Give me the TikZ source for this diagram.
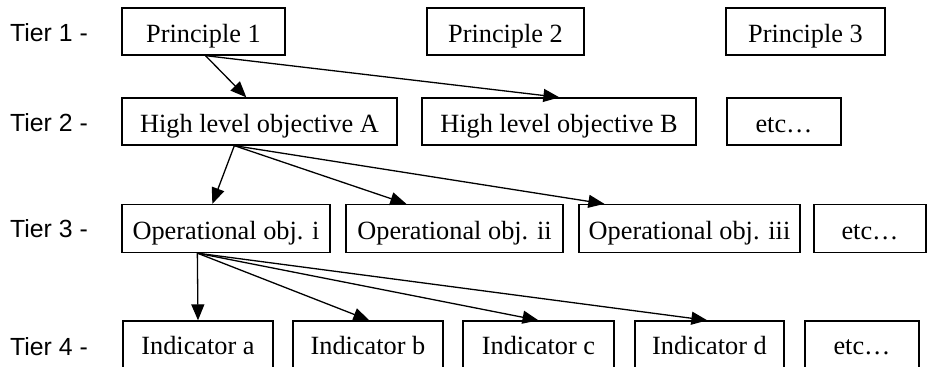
\documentclass[tikz,border=0pt]{standalone}
\usepackage{fontspec}
\setmainfont{Liberation Serif}
\newfontfamily\tierfont{Liberation Sans}
\usetikzlibrary{arrows.meta}
\begin{document}
\begin{tikzpicture}[x=1pt,y=-1pt,
  box/.style={draw,line width=1.3pt,inner sep=0pt,minimum height=47pt,text height=21pt,text depth=0pt,font=\fontsize{26.3}{28}\selectfont},
  lowbox/.style={box,minimum height=60pt,text height=6pt},
  tier/.style={anchor=base west,inner sep=0pt,font=\tierfont\fontsize{24.8}{27}\selectfont},
  arr/.style={line width=1.3pt,-{Triangle[length=16pt,width=13pt]}}]
\clip (0,0) rectangle (927,367);
\fill[white] (0,0) rectangle (927,367);
% tier labels
\node[tier] (t1) at (10,41) {Tier 1 -};
\node[tier] (t2) at (10,131) {Tier 2 -};
\node[tier] (t3) at (10,237) {Tier 3 -};
\node[tier] (t4) at (10,355) {Tier 4 -};
% tier 1
\node[box,minimum width=163pt] (P1) at (203.5,31.5) {Principle 1};
\node[box,minimum width=157pt] (P2) at (505.5,31.5) {Principle 2};
\node[box,minimum width=159pt] (P3) at (805.5,31.5) {Principle 3};
% tier 2
\node[box,minimum width=275pt] (HA) at (259.5,121.5) {High level objective A};
\node[box,minimum width=274pt] (HB) at (559,121.5) {High level objective B};
\node[box,minimum width=114pt] (HE) at (784,121.5) {etc…};
% tier 3
\node[box,minimum width=208pt,minimum height=48pt] (O1) at (226,228.5) {Operational obj. i};
\node[box,minimum width=217pt,minimum height=48pt] (O2) at (454.5,228.5) {Operational obj. ii};
\node[box,minimum width=221pt,minimum height=48pt] (O3) at (689.5,228.5) {Operational obj. iii};
\node[box,minimum width=112pt,minimum height=48pt] (OE) at (870,228.5) {etc…};
% tier 4 (lower edge outside the picture)
\node[lowbox,minimum width=150pt] (I1) at (198,351) {Indicator a};
\node[lowbox,minimum width=150pt] (I2) at (368,351) {Indicator b};
\node[lowbox,minimum width=151pt] (I3) at (538.5,351) {Indicator c};
\node[lowbox,minimum width=149pt] (I4) at (709.5,351) {Indicator d};
\node[lowbox,minimum width=114pt] (IE) at (862,351) {etc…};
% arrows tier 1 -> 2
\draw[arr] ([xshift=2pt]P1.south) -- ([xshift=125pt]HA.north west);
\draw[arr] ([xshift=2pt]P1.south) -- ([xshift=138pt]HB.north west);
% tier 2 -> 3
\draw[arr] ([xshift=113pt]HA.south west) -- ([xshift=91pt]O1.north west);
\draw[arr] ([xshift=113pt]HA.south west) -- ([xshift=61pt]O2.north west);
\draw[arr] ([xshift=113pt]HA.south west) -- ([xshift=26pt]O3.north west);
% tier 3 -> 4
\draw[arr] ([xshift=76pt]O1.south west) -- (I1.north);
\draw[arr] ([xshift=76pt]O1.south west) -- ([xshift=77pt]I2.north west);
\draw[arr] ([xshift=76pt]O1.south west) -- (I3.north);
\draw[arr] ([xshift=76pt]O1.south west) -- ([xshift=73pt]I4.north west);
\end{tikzpicture}
\end{document}
